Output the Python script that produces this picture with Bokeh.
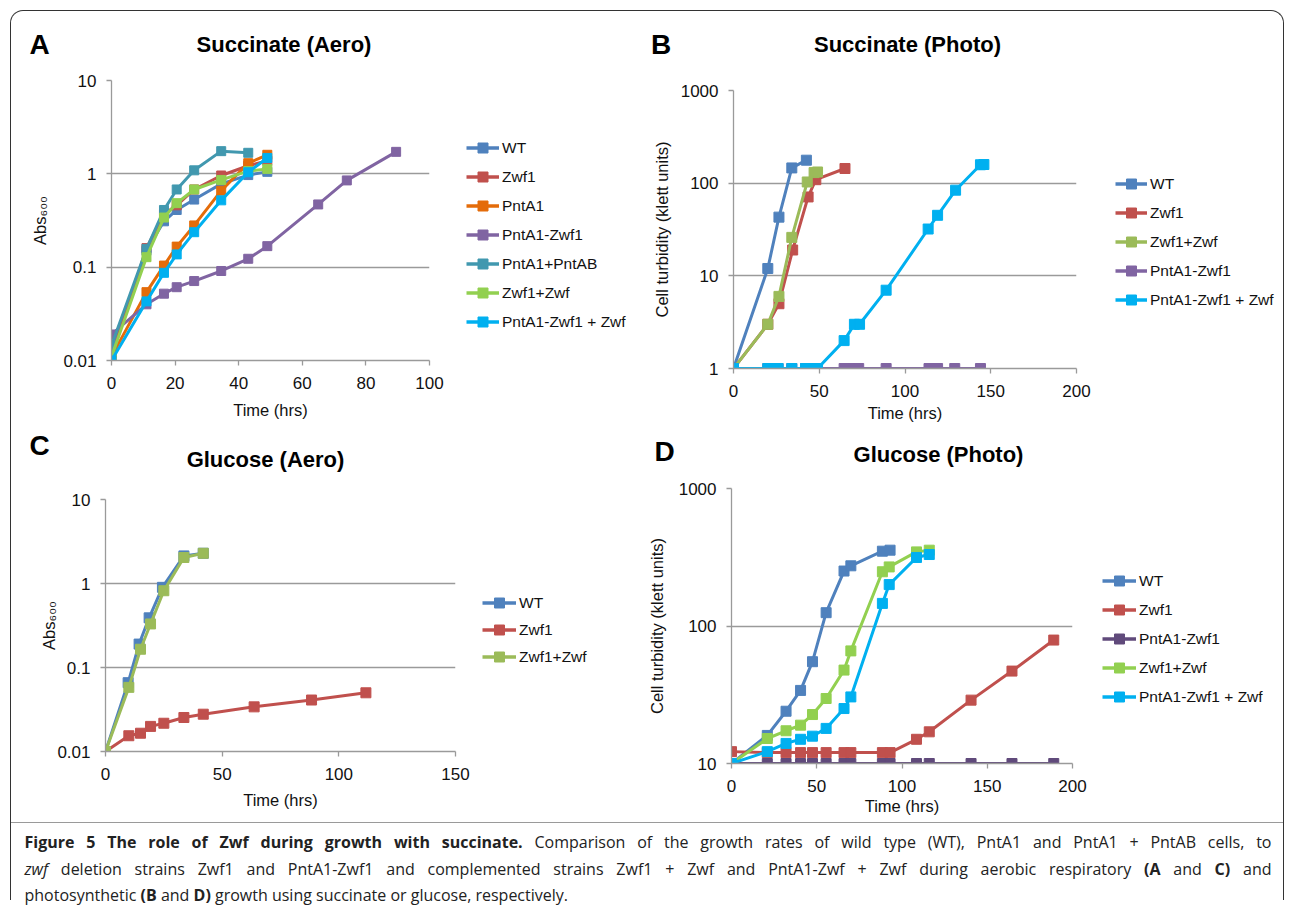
from bokeh.plotting import figure
from bokeh.models import (Legend, LegendItem, FixedTicker,
                          CustomJSTickFormatter, Div, Range1d)
from bokeh.layouts import column, row
from bokeh.embed import file_html
from bokeh.resources import INLINE

FONT = "Liberation Sans"
GRID = "#9a9a9a"

BLUE = "#4F81BD"; RED = "#C0504D"; ORANGE = "#E46C0A"; PURPLE = "#8064A2"
DPURPLE = "#604A7B"; TEAL = "#4198AF"; LGREEN = "#92D050"; OGREEN = "#9BBB59"
CYAN = "#00B0F0"

# ---------------- Panel A : Succinate (Aero) ----------------
a_time = [0, 11, 16.5, 20.5, 26, 34.5, 43, 49]
a_time_pntab = [0, 11, 16.5, 20.5, 26, 34.5, 43]
a_time_long = [0, 11, 16.5, 20.5, 26, 34.5, 43, 49, 65, 74, 89.5]
a_wt = [0.012, 0.15, 0.31, 0.41, 0.53, 0.78, 0.97, 1.05]
a_zwf1 = [0.011, 0.16, 0.37, 0.46, 0.68, 0.96, 1.22, 1.38]
a_pnta1 = [0.011, 0.054, 0.104, 0.166, 0.28, 0.66, 1.3, 1.6]
a_pnta1_zwf1 = [0.019, 0.040, 0.052, 0.061, 0.071, 0.091, 0.123, 0.168, 0.47, 0.85, 1.72]
a_pnta1_pntab = [0.0145, 0.157, 0.41, 0.68, 1.09, 1.75, 1.68]
a_zwf1_zwf = [0.011, 0.128, 0.34, 0.485, 0.68, 0.86, 1.07, 1.13]
a_pnta1_zwf1_zwf = [0.010, 0.043, 0.087, 0.137, 0.237, 0.52, 1.04, 1.48]

# ---------------- Panel B : Succinate (Photo) ----------------
b_time_wt = [0, 20, 26.5, 34, 42.5]
b_wt = [1, 12, 43, 146, 177]
b_time_zwf1 = [0, 20, 26.5, 34.5, 43.5, 48, 65]
b_zwf1 = [1, 3, 5, 19, 71, 109, 144]
b_time_zwf1_zwf = [0, 20, 26.5, 34, 43, 47, 49]
b_zwf1_zwf = [1, 3, 6, 26, 103, 130, 132]
b_time_pnta1_zwf1 = [0, 20, 22, 26, 34, 42, 47, 64.5, 70, 73, 89, 114, 119, 129, 144]
b_pnta1_zwf1 = [1, 1, 1, 1, 1, 1, 1, 1, 1, 1, 1, 1, 1, 1, 1]
b_time_pnta1_zwf1_zwf = [0, 20, 22, 26, 34, 42, 47, 49, 64.5, 70.5, 73.5, 89, 113.5, 119, 129.5, 144, 146]
b_pnta1_zwf1_zwf = [1, 1, 1, 1, 1, 1, 1, 1, 2, 3, 3, 7, 32, 45, 84, 158, 159]

# ---------------- Panel C : Glucose (Aero) ----------------
c_time_wt = [0, 9.7, 14.4, 18.7, 24.4, 33.6, 41.9]
c_wt = [0.01, 0.066, 0.19, 0.39, 0.9, 2.13, 2.29]
c_time_zwf1 = [0, 10, 15, 19.3, 25, 33.6, 41.9, 63.7, 88.3, 111.6]
c_zwf1 = [0.01, 0.0154, 0.0165, 0.0199, 0.0217, 0.0254, 0.0278, 0.034, 0.041, 0.050]
c_time_zwf1_zwf = [0, 10, 15, 19.3, 25, 33.6, 41.9]
c_zwf1_zwf = [0.01, 0.058, 0.165, 0.33, 0.82, 2.04, 2.29]

# ---------------- Panel D : Glucose (Photo) ----------------
d_time_wt = [0, 21, 32, 40.5, 47.5, 55.5, 66, 70, 88.5, 93]
d_wt = [10, 16, 24, 34, 55, 125, 251, 274, 350, 356]
d_time_long = [0, 21, 32, 40.5, 47.5, 55.5, 66, 70, 88.5, 93, 108.5, 116, 140.5, 164.5, 189]
d_zwf1 = [12.2, 12, 12, 12, 12, 12, 12, 12, 12, 12, 15, 17, 28.9, 47, 79]
d_pnta1_zwf1 = [10, 10, 10, 10, 10, 10, 10, 10, 10, 10, 10, 10, 10, 10, 10]
d_time_comp = [0, 21, 32, 40.5, 47.5, 55.5, 66, 70, 88.5, 92.5, 108.5, 116]
d_zwf1_zwf = [10, 15.2, 17.3, 19, 22.7, 29.7, 47.8, 65.9, 248, 269, 346, 356]
d_pnta1_zwf1_zwf = [10, 12.2, 14, 15, 15.8, 18, 25.1, 30.5, 146, 200, 315, 331]

x_ticks_a = [0, 20, 40, 60, 80, 100]
x_ticks_bd = [0, 50, 100, 150, 200]
x_ticks_c = [0, 50, 100, 150]
y_ticks_abs = [0.01, 0.1, 1, 10]
y_ticks_b = [1, 10, 100, 1000]
y_ticks_d = [10, 100, 1000]


def header(width, height, letter, letter_pos, title, title_pos):
    html = (
        f"<div style=\"position:relative;width:{width}px;height:{height}px;"
        f"font-family:'{FONT}',Arial,sans-serif;color:#000;\">"
        f"<span style=\"position:absolute;left:{letter_pos[0]}px;top:{letter_pos[1]}px;"
        "transform:translateY(-50%);font-size:28px;font-weight:bold;line-height:1;\">"
        f"{letter}</span>"
        f"<span style=\"position:absolute;left:{title_pos[0]}px;top:{title_pos[1]}px;"
        "transform:translate(-50%,-50%);font-size:22px;font-weight:bold;line-height:1;"
        f"white-space:nowrap;\">{title}</span></div>"
    )
    return Div(text=html, width=width, height=height, margin=0)


def panel(width, height, left, right, top, bottom, xmax, xticks, yticks, ylabel,
          series, xlab_standoff, ylab_standoff, msize):
    p = figure(width=width, height=height, x_range=Range1d(0, xmax),
               y_range=Range1d(yticks[0], yticks[-1]), y_axis_type="log",
               output_backend="svg", toolbar_location=None,
               min_border_left=left, min_border_right=right,
               min_border_top=top, min_border_bottom=bottom, margin=0,
               frame_align=False)
    p.outline_line_color = None
    p.background_fill_color = "white"
    p.border_fill_color = "white"
    p.xgrid.visible = False
    p.ygrid.ticker = FixedTicker(ticks=yticks[1:])
    p.ygrid.grid_line_color = GRID
    p.ygrid.grid_line_width = 1.3

    p.xaxis.ticker = FixedTicker(ticks=xticks)
    p.yaxis.ticker = FixedTicker(ticks=yticks)
    p.yaxis.formatter = CustomJSTickFormatter(code="return String(tick);")
    for ax in (p.xaxis, p.yaxis):
        ax.axis_line_color = GRID
        ax.axis_line_width = 1.3
        ax.major_tick_line_color = GRID
        ax.major_tick_line_width = 1.3
        ax.major_tick_out = 5
        ax.major_tick_in = 0
        ax.minor_tick_line_color = None
        ax.major_label_text_font = FONT
        ax.major_label_text_font_size = "17px"
        ax.major_label_text_color = "#111"
        ax.axis_label_text_font = FONT
        ax.axis_label_text_font_size = "16.5px"
        ax.axis_label_text_font_style = "normal"
        ax.axis_label_text_color = "#111"
    p.xaxis.major_label_standoff = 11
    p.yaxis.major_label_standoff = 10
    p.xaxis.axis_label = "Time (hrs)"
    p.yaxis.axis_label = ylabel
    p.xaxis.axis_label_standoff = xlab_standoff
    p.yaxis.axis_label_standoff = ylab_standoff

    for name, xs, ys, color in series:
        p.line(xs, ys, line_color=color, line_width=3)
        p.scatter(xs, ys, marker="square", size=msize, fill_color=color,
                  line_color=color)
    return p


def legend_fig(width, height, series, loc, spacing, glyph_w):
    # Legend-only canvas: the series are re-plotted outside the visible
    # range so that only their legend entries are shown.
    lf = figure(width=width, height=height, x_range=Range1d(-2, -1),
                y_range=Range1d(-2, -1), output_backend="svg",
                toolbar_location=None, x_axis_location=None,
                y_axis_location=None, min_border_left=0, min_border_right=0,
                min_border_top=0, min_border_bottom=0, margin=0,
                frame_align=False)
    lf.outline_line_color = None
    lf.grid.visible = False
    lf.background_fill_color = "white"
    lf.border_fill_color = "white"
    items = []
    for name, xs, ys, color in series:
        ln = lf.line(xs, ys, line_color=color, line_width=3.5)
        sc = lf.scatter(xs, ys, marker="square", size=10, fill_color=color,
                        line_color=color)
        items.append(LegendItem(label=name, renderers=[ln, sc]))
    leg = Legend(items=items, location=loc, spacing=spacing,
                 glyph_width=glyph_w, glyph_height=25, label_height=25,
                 label_standoff=3, padding=0, margin=0,
                 border_line_color=None, background_fill_alpha=0,
                 label_text_font=FONT, label_text_font_size="15.5px",
                 label_text_color="#111")
    lf.add_layout(leg, "center")
    return lf


# ---- A
series_a = [("WT", a_time, a_wt, BLUE),
            ("Zwf1", a_time, a_zwf1, RED),
            ("PntA1", a_time, a_pnta1, ORANGE),
            ("PntA1-Zwf1", a_time_long, a_pnta1_zwf1, PURPLE),
            ("PntA1+PntAB", a_time_pntab, a_pnta1_pntab, TEAL),
            ("Zwf1+Zwf", a_time, a_zwf1_zwf, LGREEN),
            ("PntA1-Zwf1 + Zwf", a_time, a_pnta1_zwf1_zwf, CYAN)]
hA = header(630, 55, "A", (18.5, 33.5), "Succinate (Aero)", (273, 33.5))
pA = panel(440, 359, 100, 22, 14, 65, 100, x_ticks_a, y_ticks_abs, "Abs₆₀₀",
           series_a, 9, 11, 9)
lA = legend_fig(190, 359, series_a, (15, 91), 4, 33)

# ---- B
series_b = [("WT", b_time_wt, b_wt, BLUE),
            ("Zwf1", b_time_zwf1, b_zwf1, RED),
            ("Zwf1+Zwf", b_time_zwf1_zwf, b_zwf1_zwf, OGREEN),
            ("PntA1-Zwf1", b_time_pnta1_zwf1, b_pnta1_zwf1, PURPLE),
            ("PntA1-Zwf1 + Zwf", b_time_pnta1_zwf1_zwf, b_pnta1_zwf1_zwf, CYAN)]
hB = header(642, 65, "B", (10, 33.5), "Succinate (Photo)", (266.5, 33.5))
pB = panel(457, 349, 92, 22, 14, 57, 200, x_ticks_bd, y_ticks_b,
           "Cell turbidity (klett units)", series_b, 4, 7, 10)
lB = legend_fig(185, 349, series_b, (17, 113), 4, 32)

# ---- C
series_c = [("WT", c_time_wt, c_wt, BLUE),
            ("Zwf1", c_time_zwf1, c_zwf1, RED),
            ("Zwf1+Zwf", c_time_zwf1_zwf, c_zwf1_zwf, OGREEN)]
hC = header(630, 60, "C", (18.5, 20.5), "Glucose (Aero)", (254.5, 34.5))
pC = panel(466, 337, 94, 22, 14, 71, 150, x_ticks_c, y_ticks_abs, "Abs₆₀₀",
           series_c, 8, -4, 10)
lC = legend_fig(164, 337, series_c, (5, 153), 2, 34)

# ---- D
series_d = [("WT", d_time_wt, d_wt, BLUE),
            ("Zwf1", d_time_long, d_zwf1, RED),
            ("PntA1-Zwf1", d_time_long, d_pnta1_zwf1, DPURPLE),
            ("Zwf1+Zwf", d_time_comp, d_zwf1_zwf, LGREEN),
            ("PntA1-Zwf1 + Zwf", d_time_comp, d_pnta1_zwf1_zwf, CYAN)]
hD = header(642, 49, "D", (13.5, 26.5), "Glucose (Photo)", (297.5, 29.5))
pD = panel(453, 348, 90, 22, 14, 59, 200, x_ticks_bd, y_ticks_d,
           "Cell turbidity (klett units)", series_d, 2, 10, 10)
lD = legend_fig(189, 348, series_d, (8, 113), 4, 34)

line_style = ("width:1247px;text-align:justify;text-align-last:justify;"
              "white-space:nowrap;")
caption_html = (
    "<div style=\"font-family:'Open Sans',sans-serif;font-size:16px;"
    "line-height:26.7px;color:#222;padding:6px 0 0 13.5px;\">"
    f"<div style=\"{line_style}\"><b>Figure 5 The role of Zwf during growth with succinate.</b> "
    "Comparison of the growth rates of wild type (WT), PntA1 and PntA1 + PntAB cells, to</div>"
    f"<div style=\"{line_style}\"><i>zwf</i> deletion strains Zwf1 and PntA1-Zwf1 and "
    "complemented strains Zwf1 + Zwf and PntA1-Zwf + Zwf during aerobic respiratory "
    "<b>(A</b> and <b>C)</b> and</div>"
    "<div style=\"white-space:nowrap;\">photosynthetic <b>(B</b> and <b>D)</b> growth using "
    "succinate or glucose, respectively.</div>"
    "</div>"
)
caption = Div(text=caption_html, width=1272, height=78, margin=0,
              styles={"border-top": "1px solid #9a9a9a", "overflow": "visible"})

page = column(
    row(column(hA, row(pA, lA, spacing=0), spacing=0),
        column(hB, row(pB, lB, spacing=0), spacing=0), spacing=0),
    row(column(hC, row(pC, lC, spacing=0), spacing=0),
        column(hD, row(pD, lD, spacing=0), spacing=0), spacing=0),
    caption, spacing=0, margin=(10, 0, 0, 10),
    styles={"border": "1.5px solid #333", "border-bottom": "none",
            "border-radius": "13px 13px 0 0", "background": "white"})

open("out.html", "w").write(file_html(page, INLINE, "Figure 5"))
